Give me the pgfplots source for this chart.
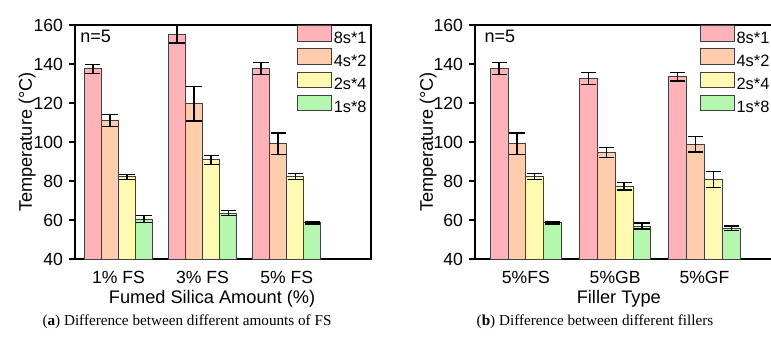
\documentclass[border=0pt]{standalone}
\usepackage{pgfplots}
\pgfplotsset{compat=1.18}
\usepackage{fontspec}
\setmainfont{Liberation Sans}
\newfontfamily\capfont{Liberation Serif}

\definecolor{cPink}{RGB}{255,179,184}
\definecolor{cOrange}{RGB}{255,204,172}
\definecolor{cYellow}{RGB}{255,250,178}
\definecolor{cGreen}{RGB}{180,247,174}

\pgfplotsset{
  tempbars/.style={
    scale only axis,
    height=117pt,
    ymin=40, ymax=160,
    ytick={40,60,...,160},
    xtick={1,2,3},
    ytick pos=left,
    tick align=outside,
    major tick length=3pt,
    xtick style={draw=none},
    axis line style={line width=0.8pt},
    every tick/.style={line width=0.7pt, black},
    tick label style={font=\fontsize{8.8}{8.8}\selectfont},
    /pgf/number format/assume math mode=true,
    yticklabel style={xshift=0.5pt},
    xticklabel style={yshift=0.5pt},
    label style={font=\fontsize{9.1}{9.1}\selectfont},
    ybar,
    bar width=0.2,
    legend image code/.code={\draw[##1, line width=0.5pt] (0pt,-1.2pt) rectangle (17pt,6.6pt);},
    error bars/y dir=both,
    error bars/y explicit,
    error bars/error bar style={line width=0.65pt, black},
    error bars/error mark options={black, mark size=3.8pt, line width=0.65pt, rotate=90},
    legend style={draw=none, fill=none, at={(1,1)}, anchor=north east,
      font=\fontsize{8.2}{8.2}\selectfont, inner xsep=1pt, inner ysep=0pt,
      row sep=0pt,
      nodes={inner ysep=0pt, inner xsep=1.0pt, text height=6.9pt, text depth=2.45pt}},
    legend cell align=left,
  },
  barstyle/.style={draw=black!75, line width=0.5pt, fill=#1},
}

\begin{document}
\begin{tikzpicture}
\useasboundingbox (0,0) rectangle (385.5pt,172.5pt);
\clip (0,0) rectangle (385.5pt,172.5pt);

% (a) amount of fumed silica
\begin{axis}[tempbars,
  at={(37.5pt,43pt)}, anchor=south west,
  width=148pt,
  xmin=0.483, xmax=4.003,
  bar width=0.203,
  xticklabels={1\% FS,3\% FS,5\% FS},
  xlabel={Fumed Silica Amount (\%)},
  ylabel={Temperature (\textdegree C)},
  xlabel style={at={(axis description cs:0.463,-0.168)}, anchor=center},
  ylabel style={at={(axis description cs:-0.162,0.5)}, anchor=center},
]
\addplot[barstyle=cPink, bar shift=-0.3045] coordinates {(1,137.5) +- (0,2.3) (2,155.2) +- (0,4.5) (3,137.6) +- (0,3.0)};
\addplot[barstyle=cOrange, bar shift=-0.1015] coordinates {(1,111.0) +- (0,3.0) (2,119.6) +- (0,8.8) (3,99.1) +- (0,5.5)};
\addplot[barstyle=cYellow, bar shift=0.1015] coordinates {(1,82.2) +- (0,1.3) (2,90.8) +- (0,2.2) (3,82.3) +- (0,1.5)};
\addplot[barstyle=cGreen, bar shift=0.3045] coordinates {(1,60.5) +- (0,1.8) (2,63.5) +- (0,1.2) (3,58.5) +- (0,0.5)};
\legend{8s*1,4s*2,2s*4,1s*8}
\node[anchor=west, inner sep=0pt, font=\fontsize{9}{9}\selectfont] at (axis description cs:0.017,0.953) {n=5};
\end{axis}

% (b) filler type
\begin{axis}[tempbars,
  at={(237.5pt,43pt)}, anchor=south west,
  width=152pt,
  xmin=0.43, xmax=3.835,
  bar width=0.2,
  legend style={at={(0.983,1)}},
  xticklabels={5\%FS,5\%GB,5\%GF},
  xlabel={Filler Type},
  ylabel={Temperature (\textdegree C)},
  xlabel style={at={(axis description cs:0.473,-0.168)}, anchor=center},
  ylabel style={at={(axis description cs:-0.154,0.5)}, anchor=center},
]
\addplot[barstyle=cPink, bar shift=-0.3] coordinates {(1,137.6) +- (0,3.0) (2,132.5) +- (0,3.0) (3,133.5) +- (0,2.2)};
\addplot[barstyle=cOrange, bar shift=-0.1] coordinates {(1,99.1) +- (0,5.5) (2,94.5) +- (0,2.6) (3,98.8) +- (0,4.0)};
\addplot[barstyle=cYellow, bar shift=0.1] coordinates {(1,82.3) +- (0,1.5) (2,77.4) +- (0,2.0) (3,80.8) +- (0,4.0)};
\addplot[barstyle=cGreen, bar shift=0.3] coordinates {(1,58.5) +- (0,0.5) (2,56.9) +- (0,1.5) (3,55.8) +- (0,1.2)};
\legend{8s*1,4s*2,2s*4,1s*8}
\node[anchor=west, inner sep=0pt, font=\fontsize{9}{9}\selectfont] at (axis description cs:0.03,0.953) {n=5};
\end{axis}

% sub-figure captions
\node[font=\capfont\fontsize{7.6}{7.6}\selectfont, anchor=center] at (93.5pt,11.5pt) {(\textbf{a}) Difference between different amounts of FS};
\node[font=\capfont\fontsize{7.6}{7.6}\selectfont, anchor=center] at (297.5pt,11.5pt) {(\textbf{b}) Difference between different fillers};
\end{tikzpicture}
\end{document}
